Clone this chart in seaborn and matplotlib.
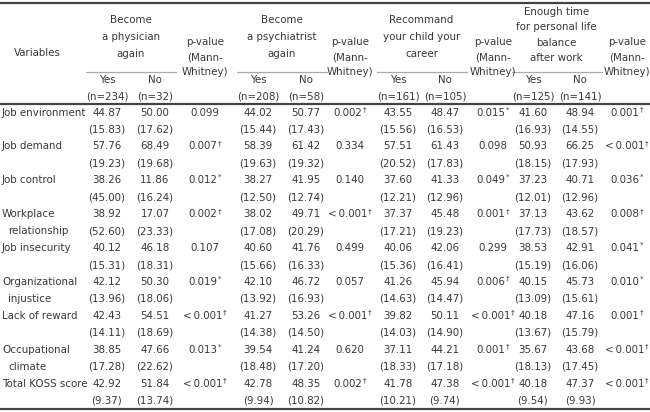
import matplotlib
matplotlib.use("Agg")
import matplotlib.pyplot as plt
import seaborn as sns

sns.set_theme(style="white")
plt.rcParams['font.family'] = ['DejaVu Sans']

# ---------------- data ----------------
variables = ["Job environment", "Job demand", "Job control",
             "Workplace|relationship", "Job insecurity", "Organizational|injustice",
             "Lack of reward", "Occupational|climate", "Total KOSS score"]

group_titles = ["Become\na physician\nagain", "Become\na psychiatrist\nagain",
                "Recommand\nyour child your\ncareer",
                "Enough time\nfor personal life\nbalance\nafter work"]
n_yes = [234, 208, 161, 125]
n_no = [32, 58, 105, 141]

physician_yes = [44.87, 57.76, 38.26, 38.92, 40.12, 42.12, 42.43, 38.85, 42.92]
physician_yes_sd = [15.83, 19.23, 45.00, 52.60, 15.31, 13.96, 14.11, 17.28, 9.37]
physician_no = [50.00, 68.49, 11.86, 17.07, 46.18, 50.30, 54.51, 47.66, 51.84]
physician_no_sd = [17.62, 19.68, 16.24, 23.33, 18.31, 18.06, 18.69, 22.62, 13.74]
physician_p = ["0.099", "0.007†", "0.012*", "0.002†", "0.107", "0.019*", "<0.001†", "0.013*", "<0.001†"]

psychiatrist_yes = [44.02, 58.39, 38.27, 38.02, 40.60, 42.10, 41.27, 39.54, 42.78]
psychiatrist_yes_sd = [15.44, 19.63, 12.50, 17.08, 15.66, 13.92, 14.38, 18.48, 9.94]
psychiatrist_no = [50.77, 61.42, 41.95, 49.71, 41.76, 46.72, 53.26, 41.24, 48.35]
psychiatrist_no_sd = [17.43, 19.32, 12.74, 20.29, 16.33, 16.93, 14.50, 17.20, 10.82]
psychiatrist_p = ["0.002†", "0.334", "0.140", "<0.001†", "0.499", "0.057", "<0.001†", "0.620", "0.002†"]

recommend_yes = [43.55, 57.51, 37.60, 37.37, 40.06, 41.26, 39.82, 37.11, 41.78]
recommend_yes_sd = [15.56, 20.52, 12.21, 17.21, 15.36, 14.63, 14.03, 18.33, 10.21]
recommend_no = [48.47, 61.43, 41.33, 45.48, 42.06, 45.94, 50.11, 44.21, 47.38]
recommend_no_sd = [16.53, 17.83, 12.96, 19.23, 16.41, 14.47, 14.90, 17.18, 9.74]
recommend_p = ["0.015*", "0.098", "0.049*", "0.001†", "0.299", "0.006†", "<0.001†", "0.001†", "<0.001†"]

balance_yes = [41.60, 50.93, 37.23, 37.13, 38.53, 40.15, 40.18, 35.67, 40.18]
balance_yes_sd = [16.93, 18.15, 12.01, 17.73, 15.19, 13.09, 13.67, 18.13, 9.54]
balance_no = [48.94, 66.25, 40.71, 43.62, 42.91, 45.73, 47.16, 43.68, 47.37]
balance_no_sd = [14.55, 17.93, 12.96, 18.57, 16.06, 15.61, 15.79, 17.45, 9.93]
balance_p = ["0.001†", "<0.001†", "0.036*", "0.008†", "0.041*", "0.010*", "0.001†", "<0.001†", "<0.001†"]

groups = [
    (physician_yes, physician_yes_sd, physician_no, physician_no_sd, physician_p),
    (psychiatrist_yes, psychiatrist_yes_sd, psychiatrist_no, psychiatrist_no_sd, psychiatrist_p),
    (recommend_yes, recommend_yes_sd, recommend_no, recommend_no_sd, recommend_p),
    (balance_yes, balance_yes_sd, balance_no, balance_no_sd, balance_p),
]

# ---------------- layout ----------------
W, H = 650, 412
fig = plt.figure(figsize=(6.5, 4.12), dpi=100)
ax = fig.add_axes([0, 0, 1, 1])
ax.set_xlim(0, W)
ax.set_ylim(H, 0)
ax.axis("off")

TXT = "#383838"
FS = 7.4
col_yes = [107, 258, 398, 533]
col_no = [155, 306, 445, 580]
col_p = [205, 350, 493, 627]

row0 = 112.5
row_h = 16.95

def ptext(x, y, s):
    mark = ""
    if s.endswith("†") or s.endswith("*"):
        mark = s[-1]
        s = s[:-1]
    if s.startswith("<"):
        s = "<" + "\u2009" + s[1:]
    t = ax.text(x - (2 if mark else 0), y, s, ha="center", va="center", fontsize=FS, color=TXT)
    if mark:
        ax.annotate(mark, xy=(1, 1), xycoords=t, xytext=(0.3, 0.8), textcoords="offset points",
                    ha="left", va="top", fontsize=FS * 0.7, color=TXT)

# rules
ax.plot([0, W], [3, 3], color="#444444", lw=1.6, solid_capstyle="butt")
ax.plot([0, W], [104, 104], color="#444444", lw=1.6, solid_capstyle="butt")
ax.plot([0, W], [409, 409], color="#444444", lw=1.6, solid_capstyle="butt")

# header
ax.text(37, 53, "Variables", ha="center", va="center", fontsize=FS, color=TXT)
for g in range(4):
    cx = (col_yes[g] + col_no[g]) / 2
    lines = group_titles[g].split("\n")
    if len(lines) == 3:
        ys = [20, 37, 53.5]
    else:
        ys = [11.5, 27, 42.5, 57.5]
    for yy, ln in zip(ys, lines):
        ax.text(cx, yy, ln, ha="center", va="center", fontsize=FS, color=TXT)
    ax.plot([cx - 45, cx + 45], [71.5, 71.5], color="#aaaaaa", lw=0.9)
    ax.text(col_yes[g], 80, "Yes", ha="center", va="center", fontsize=FS, color=TXT)
    ax.text(col_no[g], 80, "No", ha="center", va="center", fontsize=FS, color=TXT)
    ax.text(col_yes[g], 96.5, f"(n={n_yes[g]})", ha="center", va="center", fontsize=FS, color=TXT)
    ax.text(col_no[g], 96.5, f"(n={n_no[g]})", ha="center", va="center", fontsize=FS, color=TXT)
    for yy, ln in zip([42, 57, 72], ["p-value", "(Mann-", "Whitney)"]):
        ax.text(col_p[g], yy, ln, ha="center", va="center", fontsize=FS, color=TXT)

# body
for i, var in enumerate(variables):
    y1 = row0 + 2 * i * row_h
    y2 = y1 + row_h
    parts = var.split("|")
    ax.text(2, y1, parts[0], ha="left", va="center", fontsize=FS, color=TXT)
    if len(parts) > 1:
        ax.text(8, y2, parts[1], ha="left", va="center", fontsize=FS, color=TXT)
    for g, (ym, ysd, nm, nsd, pv) in enumerate(groups):
        ax.text(col_yes[g], y1, f"{ym[i]:.2f}", ha="center", va="center", fontsize=FS, color=TXT)
        ax.text(col_no[g], y1, f"{nm[i]:.2f}", ha="center", va="center", fontsize=FS, color=TXT)
        ax.text(col_yes[g], y2, f"({ysd[i]:.2f})", ha="center", va="center", fontsize=FS, color=TXT)
        ax.text(col_no[g], y2, f"({nsd[i]:.2f})", ha="center", va="center", fontsize=FS, color=TXT)
        ptext(col_p[g], y1, pv[i])

fig.savefig("out.png", dpi=100)
